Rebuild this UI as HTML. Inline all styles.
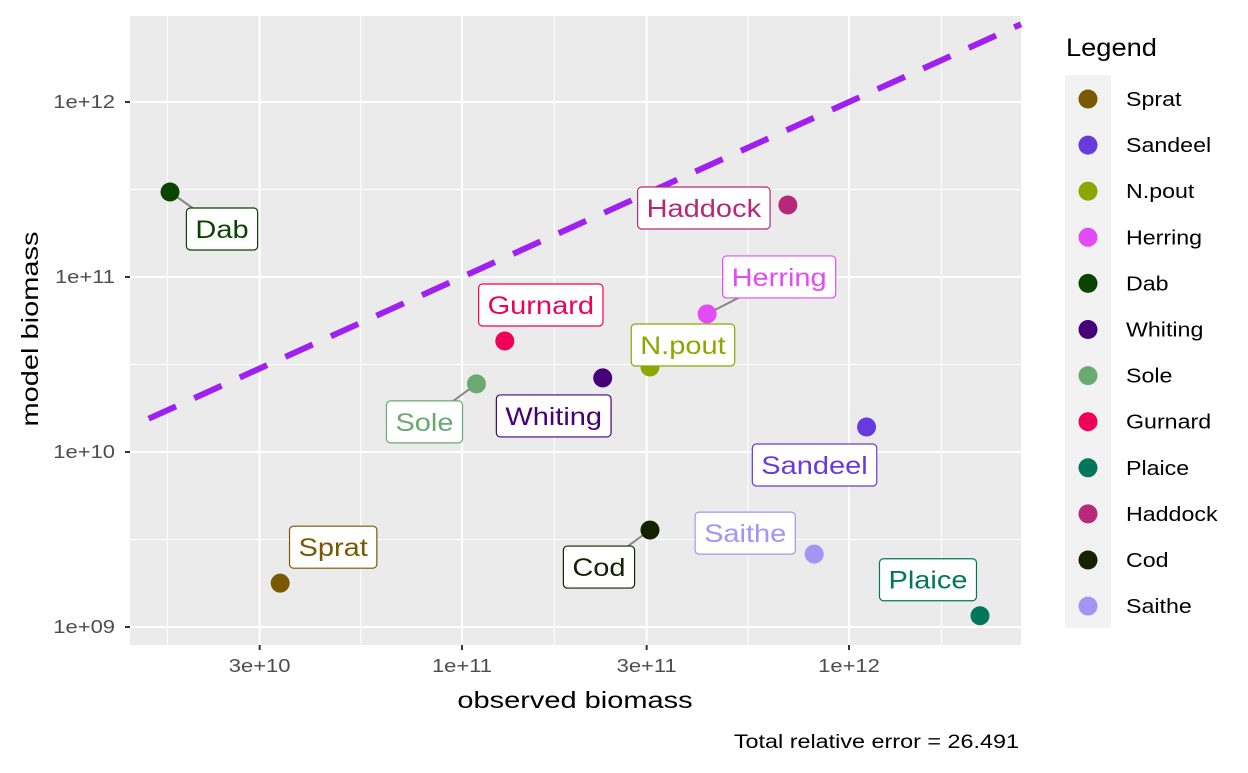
<!DOCTYPE html>
<html><head><meta charset="utf-8"><style>
body{margin:0;background:#fff;}
svg text{font-family:"Liberation Sans",sans-serif;}
</style></head><body>
<svg id="chart" width="1248" height="768" xmlns="http://www.w3.org/2000/svg">
<rect x="130" y="16" width="891" height="629" fill="#ebebeb"/>
<g id="grid"></g>
<g id="diag"></g>
<g id="axes"></g>
<g id="marks"></g>
<text id="xt" x="575" y="708" font-size="23" text-anchor="middle">observed biomass</text>
<text id="yt" transform="translate(38,329) rotate(-90)" font-size="23" text-anchor="middle">model biomass</text>
<text id="cap" x="1019" y="748" font-size="19" text-anchor="end">Total relative error = 26.491</text>
<text id="lt" x="1066" y="56" font-size="25">Legend</text>
<rect x="1065" y="75" width="46" height="553" fill="#f2f2f2"/>
<g id="legend"></g>
</svg>
<script>
const species=["Sprat","Sandeel","N.pout","Herring","Dab","Whiting","Sole","Gurnard","Plaice","Haddock","Cod","Saithe"];
const observed=[3.39e10,1.11e12,3.06e11,4.3e11,1.76e10,2.31e11,1.09e11,1.29e11,2.18e12,6.95e11,3.06e11,8.13e11];
const model=[1.78e9,1.39e10,3.06e10,6.15e10,3.06e11,2.65e10,2.45e10,4.31e10,1.16e9,2.58e11,3.58e9,2.61e9];
const xTickVals=[3e10,1e11,3e11,1e12];
const xTickLabels=["3e+10","1e+11","3e+11","1e+12"];
const yTickVals=[1e9,1e10,1e11,1e12];
const yTickLabels=["1e+09","1e+10","1e+11","1e+12"];
const colors=["#7a5800","#673ae0","#8aa800","#e14cf5","#0b4400","#45007a","#6aaa70","#f00058","#00775a","#b8287a","#142200","#a394f5"];
const labelDx=[53,-52,33,72,52,-49,-52,36,-52,-84,-51,-69];
const labelDy=[-36,38,-22,-37,37,38,38,-36,-36,3,37,-21];
const leader=[0,0,0,1,1,0,1,0,0,0,1,0];
const NS="http://www.w3.org/2000/svg";
const X0=130,X1=1021,Y0=16,Y1=645;
const sx=v=>462+(Math.log10(v)-11)*387;
const sy=v=>102+(12-Math.log10(v))*175;
function mk(t,a,p){const e=document.createElementNS(NS,t);for(const k in a)e.setAttribute(k,a[k]);p.appendChild(e);return e;}
function stretch(el,f){const L=el.getComputedTextLength();el.setAttribute('textLength',L*f);el.setAttribute('lengthAdjust','spacingAndGlyphs');return L*f;}
const grid=document.getElementById('grid');
for(let d=9;d<=12;d++){const yv=sy(Math.pow(10,d+0.5));if(yv>Y0&&yv<Y1){const l=mk('line',{x1:X0,x2:X1,y1:yv,y2:yv,stroke:'#fff','stroke-width':1},grid);}}
const xm=[]; for(let i=0;i<xTickVals.length+1;i++){const a=i==0?1e10:xTickVals[i-1];const b=i<xTickVals.length?xTickVals[i]:3e12;xm.push(Math.sqrt(a*b));}
xm.forEach(v=>{const xv=sx(v);if(xv>X0&&xv<X1){const l=mk('line',{x1:xv,x2:xv,y1:Y0,y2:Y1,stroke:'#fff','stroke-width':1},grid);}});
const axes=document.getElementById('axes');
yTickVals.forEach((v,i)=>{const yv=sy(v);
const l=mk('line',{x1:X0,x2:X1,y1:yv,y2:yv,stroke:'#fff','stroke-width':2},grid);
const t=mk('line',{x1:X0-5,x2:X0,y1:yv,y2:yv,stroke:'#333','stroke-width':2},axes);
const tx=mk('text',{x:X0-15,y:yv+6,'font-size':18,fill:'#4d4d4d','text-anchor':'end'},axes);tx.textContent=yTickLabels[i];stretch(tx,1.22);});
xTickVals.forEach((v,i)=>{const xv=sx(v);
const l=mk('line',{x1:xv,x2:xv,y1:Y0,y2:Y1,stroke:'#fff','stroke-width':2},grid);
const t=mk('line',{x1:xv,x2:xv,y1:Y1,y2:Y1+5,stroke:'#333','stroke-width':2},axes);
const tx=mk('text',{x:xv,y:Y1+27,'font-size':18,fill:'#4d4d4d','text-anchor':'middle'},axes);tx.textContent=xTickLabels[i];stretch(tx,1.22);});
const diag=mk('line',{x1:sx(1.55e10),y1:sy(1.55e10),x2:X1,y2:sy(Math.pow(10,11+(X1-462)/387)),stroke:'#a020f0','stroke-width':6,'stroke-dasharray':'30,20'},document.getElementById('diag'));


const marks=document.getElementById('marks');
species.forEach((s,i)=>{const px=sx(observed[i]),py=sy(model[i]);const lx=px+labelDx[i],ly=py+labelDy[i];
if(leader[i]){const ln=mk('line',{x1:px,y1:py,x2:lx,y2:ly,stroke:'#888','stroke-width':2},marks);}
const c=mk('circle',{cx:px,cy:py,r:9.5,fill:colors[i]},marks);
const g=mk('g',{},marks);
const tx=mk('text',{x:lx,y:ly+9,'font-size':25,fill:colors[i],'text-anchor':'middle'},g);tx.textContent=s;
const w=stretch(tx,1.16)+18;
const r=mk('rect',{x:lx-w/2,y:ly-21,width:w,height:42,rx:4,fill:'#fff',stroke:colors[i],'stroke-width':1.2},g);g.insertBefore(r,tx);});
const leg=document.getElementById('legend');
species.forEach((s,i)=>{const y=99+i*46.1;
const c=mk('circle',{cx:1088,cy:y,r:9.5,fill:colors[i]},leg);
const t=mk('text',{x:1126,y:y+7,'font-size':20},leg);t.textContent=s;stretch(t,1.16);});
stretch(document.getElementById('xt'),1.26);
stretch(document.getElementById('yt'),1.26);
stretch(document.getElementById('cap'),1.23);
stretch(document.getElementById('lt'),1.09);
</script>
</body></html>
